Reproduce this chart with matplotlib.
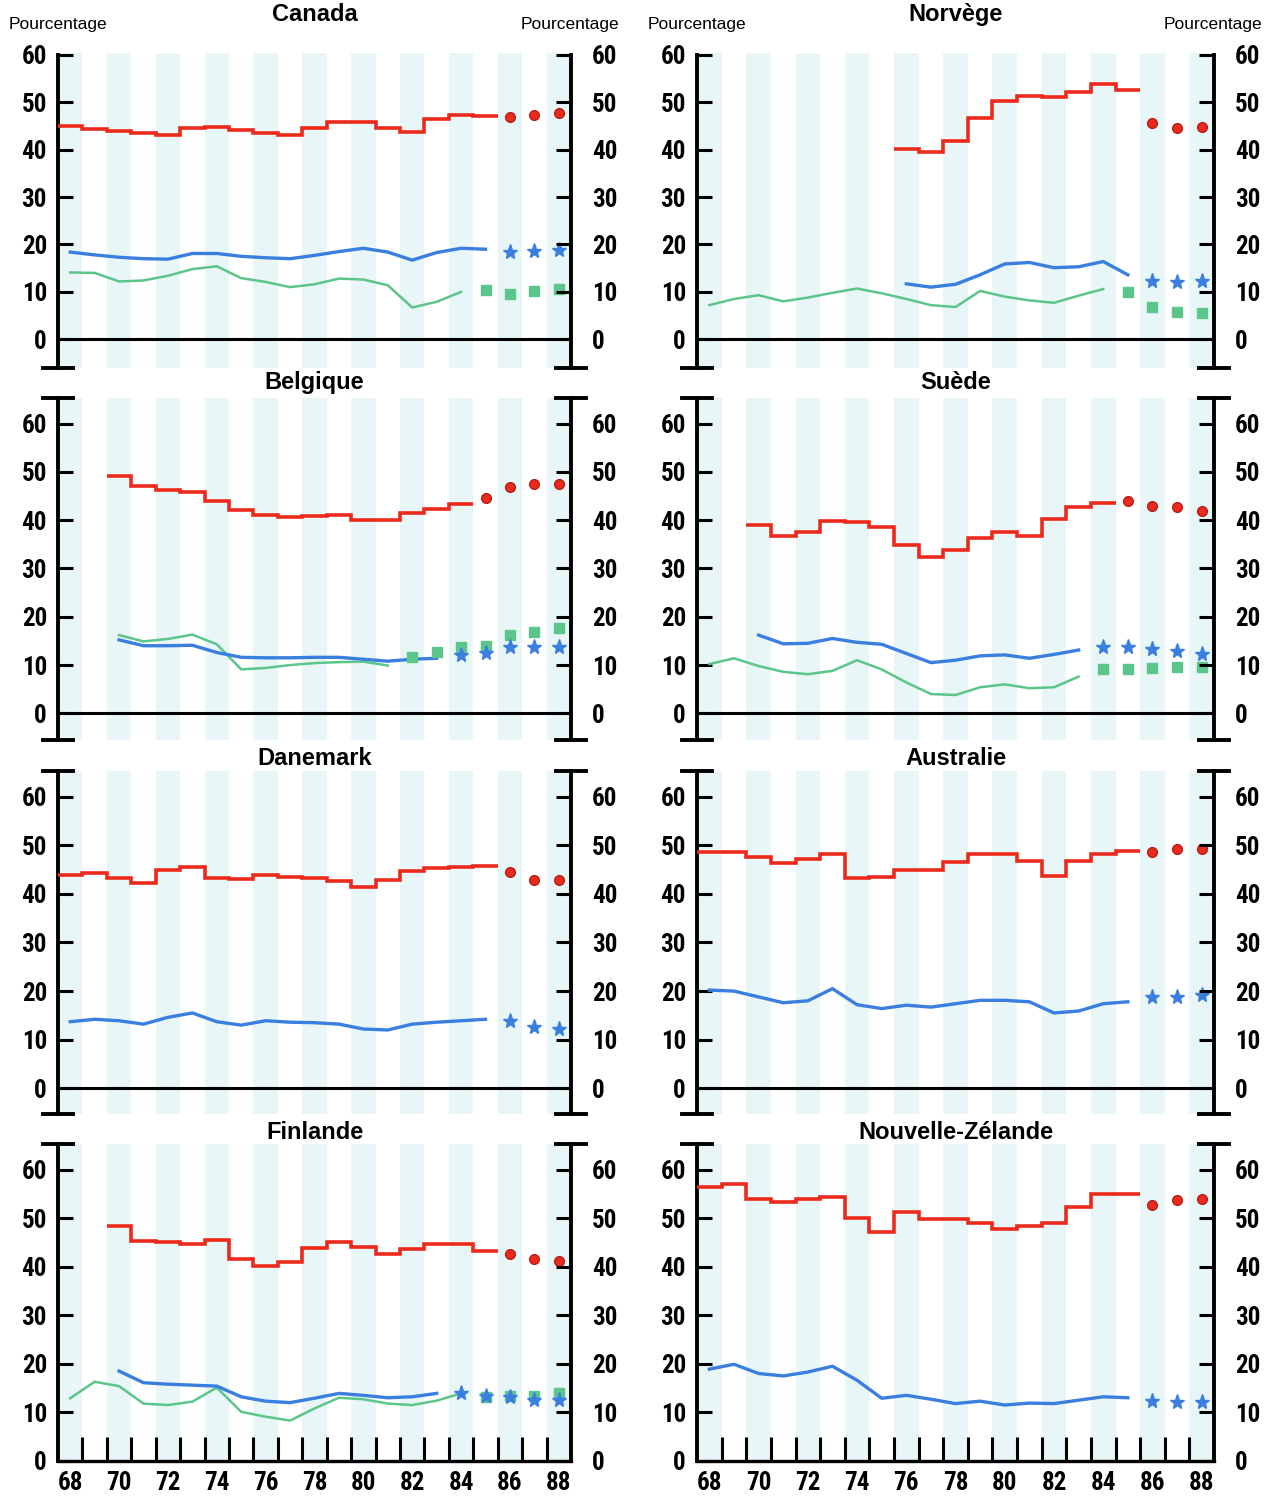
import numpy as np
import matplotlib.pyplot as plt
from matplotlib import font_manager

plt.rcParams['font.family'] = ['Liberation Sans', 'DejaVu Sans']

ROUGE = '#ec2a1c'
BLEU = '#3a7fe0'
VERT = '#5cc58a'
BANDE = '#e8f6f8'

# Canada
canada_rouge_ans = list(range(68, 86))
canada_rouge = [45.0, 44.3, 44.0, 43.6, 43.1, 44.5, 44.8, 44.1, 43.5, 43.0, 44.5, 45.8, 45.8, 44.6, 43.8, 46.4, 47.4, 47.2]
canada_rouge_prev = [46.8, 47.3, 47.7]
canada_bleu_ans = list(range(68, 86))
canada_bleu = [18.4, 17.8, 17.3, 17.0, 16.9, 18.1, 18.1, 17.5, 17.2, 17.0, 17.7, 18.5, 19.2, 18.4, 16.7, 18.3, 19.2, 19.0]
canada_bleu_prev = [18.5, 18.7, 18.8]
canada_vert_ans = list(range(68, 85))
canada_vert = [14.1, 14.0, 12.2, 12.4, 13.4, 14.8, 15.4, 12.9, 12.1, 11.0, 11.6, 12.8, 12.6, 11.4, 6.7, 7.9, 10.0]
canada_vert_prev = [10.5, 9.6, 10.1, 10.7]

# Norvège
norvege_rouge_ans = list(range(76, 86))
norvege_rouge = [40.2, 39.5, 41.8, 46.6, 50.3, 51.4, 51.1, 52.2, 53.9, 52.5]
norvege_rouge_prev = [45.6, 44.5, 44.7]
norvege_bleu_ans = list(range(76, 86))
norvege_bleu = [11.7, 11.0, 11.6, 13.6, 15.9, 16.2, 15.1, 15.3, 16.4, 13.6]
norvege_bleu_prev = [12.2, 12.0, 12.2]
norvege_vert_ans = list(range(68, 85))
norvege_vert = [7.2, 8.5, 9.3, 8.0, 8.8, 9.8, 10.7, 9.7, 8.5, 7.2, 6.8, 10.2, 9.0, 8.2, 7.7, 9.2, 10.6]
norvege_vert_prev = [9.9, 6.8, 5.8, 5.5]

# Belgique
belgique_rouge_ans = list(range(70, 85))
belgique_rouge = [49.2, 47.1, 46.3, 45.8, 43.9, 42.1, 41.0, 40.6, 40.8, 41.0, 40.1, 40.1, 41.5, 42.2, 43.4]
belgique_rouge_prev = [44.6, 46.9, 47.4, 47.4]
belgique_bleu_ans = list(range(70, 84))
belgique_bleu = [15.2, 14.0, 14.0, 14.1, 12.6, 11.6, 11.5, 11.5, 11.6, 11.6, 11.2, 10.8, 11.2, 11.4]
belgique_bleu_prev = [12.1, 12.4, 13.8, 13.8, 13.7]
belgique_vert_ans = list(range(70, 82))
belgique_vert = [16.2, 14.9, 15.4, 16.3, 14.3, 9.1, 9.4, 10.0, 10.4, 10.6, 10.7, 9.9]
belgique_vert_prev = [11.6, 12.6, 13.7, 13.9, 16.2, 16.9, 17.7]

# Suède
suede_rouge_ans = list(range(70, 85))
suede_rouge = [38.9, 36.8, 37.5, 39.9, 39.6, 38.6, 34.9, 32.3, 33.9, 36.4, 37.5, 36.8, 40.2, 42.8, 43.5]
suede_rouge_prev = [44.0, 43.0, 42.8, 41.9]
suede_bleu_ans = list(range(70, 84))
suede_bleu = [16.2, 14.4, 14.5, 15.5, 14.7, 14.3, 12.4, 10.5, 11.0, 11.9, 12.1, 11.4, 12.2, 13.1]
suede_bleu_prev = [13.8, 13.8, 13.3, 12.9, 12.2]
suede_vert_ans = list(range(68, 84))
suede_vert = [10.2, 11.4, 9.8, 8.6, 8.1, 8.8, 11.0, 9.1, 6.4, 4.0, 3.8, 5.4, 6.0, 5.2, 5.4, 7.6]
suede_vert_prev = [9.1, 9.1, 9.3, 9.5, 9.5]

# Danemark
danemark_rouge_ans = list(range(68, 86))
danemark_rouge = [43.8, 44.3, 43.3, 42.3, 44.9, 45.5, 43.3, 43.0, 43.8, 43.5, 43.3, 42.7, 41.5, 42.8, 44.7, 45.4, 45.5, 45.7]
danemark_rouge_prev = [44.4, 42.9, 42.8]
danemark_bleu_ans = list(range(68, 86))
danemark_bleu = [13.7, 14.2, 13.9, 13.2, 14.6, 15.5, 13.7, 13.0, 13.9, 13.6, 13.5, 13.2, 12.2, 12.0, 13.2, 13.6, 13.9, 14.2]
danemark_bleu_prev = [13.9, 12.6, 12.1]

# Australie
australie_rouge_ans = list(range(68, 86))
australie_rouge = [48.6, 48.6, 47.5, 46.3, 47.1, 48.2, 43.3, 43.5, 45.0, 45.0, 46.5, 48.2, 48.2, 46.7, 43.7, 46.7, 48.2, 48.9]
australie_rouge_prev = [48.6, 49.2, 49.2]
australie_bleu_ans = list(range(68, 86))
australie_bleu = [20.2, 20.0, 18.8, 17.6, 18.0, 20.5, 17.2, 16.4, 17.1, 16.7, 17.4, 18.1, 18.1, 17.8, 15.5, 15.9, 17.4, 17.8]
australie_bleu_prev = [18.8, 18.8, 19.1]

# Finlande
finlande_rouge_ans = list(range(70, 86))
finlande_rouge = [48.4, 45.3, 45.0, 44.6, 45.5, 41.7, 40.2, 40.9, 43.8, 45.1, 44.1, 42.7, 43.6, 44.6, 44.6, 43.2]
finlande_rouge_prev = [42.6, 41.7, 41.2]
finlande_bleu_ans = list(range(70, 84))
finlande_bleu = [18.5, 16.1, 15.8, 15.6, 15.4, 13.2, 12.3, 12.0, 12.9, 13.9, 13.5, 13.0, 13.2, 13.9]
finlande_bleu_prev = [13.9, 13.3, 13.2, 12.6, 12.6]
finlande_vert_ans = list(range(68, 85))
finlande_vert = [12.9, 16.3, 15.4, 11.8, 11.5, 12.2, 15.1, 10.1, 9.1, 8.3, 10.8, 13.0, 12.7, 11.8, 11.5, 12.4, 13.9]
finlande_vert_prev = [13.2, 13.4, 13.4, 13.9]

# Nouvelle-Zélande
nz_rouge_ans = list(range(68, 86))
nz_rouge = [56.4, 57.0, 54.0, 53.4, 54.0, 54.4, 50.1, 47.2, 51.3, 49.9, 49.9, 49.0, 47.7, 48.4, 49.0, 52.3, 54.9, 54.9]
nz_rouge_prev = [52.7, 53.8, 54.0]
nz_bleu_ans = list(range(68, 86))
nz_bleu = [18.9, 19.9, 18.0, 17.5, 18.3, 19.5, 16.6, 12.9, 13.5, 12.7, 11.8, 12.3, 11.5, 11.9, 11.8, 12.5, 13.2, 13.0]
nz_bleu_prev = [12.3, 12.2, 12.2]

ans_axe = list(range(68, 89, 2))
graduations = [0, 10, 20, 30, 40, 50, 60]


def police_chiffres(taille):
    """Police étroite et grasse pour les chiffres des axes, si une est installée."""
    noms = {f.name for f in font_manager.fontManager.ttflist}
    for nom in ['Roboto Condensed', 'Liberation Sans Narrow', 'Open Sans Condensed',
                'Noto Sans Condensed', 'DejaVu Sans Condensed']:
        if nom in noms:
            return font_manager.FontProperties(family=nom, size=taille, weight='bold')
    for nom in sorted(noms):
        if 'Narrow' in nom or 'Condensed' in nom:
            return font_manager.FontProperties(family=nom, size=taille, weight='bold')
    return font_manager.FontProperties(family='Liberation Sans', size=taille - 2,
                                       weight='bold')


FP_Y = police_chiffres(18)
FP_X = police_chiffres(18)


def prevision(ans, valeurs):
    """Années de prévision : elles suivent la dernière année observée."""
    return list(range(ans[-1] + 1, ans[-1] + 1 + len(valeurs)))


def trace_pays(ax, rouge, bleu, vert, ylo, yhi, bas):
    ax.set_xlim(67.5, 88.5)
    ax.set_ylim(ylo, yhi)
    for a in ans_axe:
        ax.axvspan(a - 0.5, a + 0.5, color=BANDE, lw=0, zorder=0)

    if vert is not None:
        ans, val, prev = vert
        ax.plot(ans, val, color=VERT, lw=1.8, zorder=3)
        ax.plot(prevision(ans, prev), prev, 's', color=VERT, ms=7, zorder=4)
    ans, val, prev = bleu
    ax.plot(ans, val, color=BLEU, lw=2.4, zorder=3)
    ax.plot(prevision(ans, prev), prev, '*', color=BLEU, ms=11, zorder=5)
    ans, val, prev = rouge
    bords = np.append(np.array(ans) - 0.5, ans[-1] + 0.5)
    ax.stairs(val, bords, baseline=None, color=ROUGE, lw=2.6, zorder=3)
    ax.plot(prevision(ans, prev), prev, 'o', color=ROUGE, mec='#b51e18', ms=7, zorder=4)

    # première rangée : l'axe s'arrête à 60, sinon barre en T au sommet
    haut = 60 if yhi < 61 else yhi
    ax.spines['left'].set_bounds(ylo, haut)
    ax.spines['left'].set_linewidth(2.8)
    ax.spines['right'].set_visible(False)
    ax.spines['top'].set_visible(False)

    ax.set_yticks(graduations)
    ax.tick_params(axis='y', direction='in', length=11, width=2.2, pad=8)
    for lab in ax.get_yticklabels():
        lab.set_fontproperties(FP_Y)

    droite = ax.twinx()
    droite.set_ylim(ylo, yhi)
    droite.set_yticks(graduations)
    droite.tick_params(axis='y', direction='in', length=11, width=2.2, pad=15)
    for lab in droite.get_yticklabels():
        lab.set_fontproperties(FP_Y)
    for cote in ['left', 'top', 'bottom']:
        droite.spines[cote].set_visible(False)
    droite.spines['right'].set_bounds(ylo, haut)
    droite.spines['right'].set_linewidth(2.8)

    if bas:
        ax.spines['bottom'].set_linewidth(2.4)
        ax.set_xticks(ans_axe)
        ax.set_xticks(np.arange(68.5, 88, 1), minor=True)
        ax.tick_params(axis='x', which='major', length=0, pad=7)
        for lab in ax.get_xticklabels():
            lab.set_fontproperties(FP_X)
        ax.tick_params(axis='x', which='minor', direction='in', length=17, width=2.2)
    else:
        ax.spines['bottom'].set_visible(False)
        ax.set_xticks([])
        ax.axhline(0, color='black', lw=2.2, zorder=2)
        for x in (67.5, 88.5):
            ax.plot([x - 0.6, x + 0.6], [ylo, ylo], color='black', lw=2.8,
                    clip_on=False, zorder=6)
    if haut == yhi:
        for x in (67.5, 88.5):
            ax.plot([x - 0.6, x + 0.6], [yhi, yhi], color='black', lw=2.8,
                    clip_on=False, zorder=6)


fig = plt.figure(figsize=(12.72, 14.96), dpi=100)

# (bas, hauteur, ymin, ymax) pour chaque rangée
rangees = [
    (0.7542, 0.2107, -6.0, 60.5),
    (0.5054, 0.2283, -5.5, 65.2),
    (0.2553, 0.2294, -5.3, 65.3),
    (0.0235, 0.2118, 0.0, 65.3),
]
colonnes = [(0.0456, 0.4033), (0.548, 0.4064)]
titres_y = [0.990, 0.744, 0.4933, 0.2433]

panneaux = [
    ('Canada', (canada_rouge_ans, canada_rouge, canada_rouge_prev),
     (canada_bleu_ans, canada_bleu, canada_bleu_prev),
     (canada_vert_ans, canada_vert, canada_vert_prev)),
    ('Norvège', (norvege_rouge_ans, norvege_rouge, norvege_rouge_prev),
     (norvege_bleu_ans, norvege_bleu, norvege_bleu_prev),
     (norvege_vert_ans, norvege_vert, norvege_vert_prev)),
    ('Belgique', (belgique_rouge_ans, belgique_rouge, belgique_rouge_prev),
     (belgique_bleu_ans, belgique_bleu, belgique_bleu_prev),
     (belgique_vert_ans, belgique_vert, belgique_vert_prev)),
    ('Suède', (suede_rouge_ans, suede_rouge, suede_rouge_prev),
     (suede_bleu_ans, suede_bleu, suede_bleu_prev),
     (suede_vert_ans, suede_vert, suede_vert_prev)),
    ('Danemark', (danemark_rouge_ans, danemark_rouge, danemark_rouge_prev),
     (danemark_bleu_ans, danemark_bleu, danemark_bleu_prev), None),
    ('Australie', (australie_rouge_ans, australie_rouge, australie_rouge_prev),
     (australie_bleu_ans, australie_bleu, australie_bleu_prev), None),
    ('Finlande', (finlande_rouge_ans, finlande_rouge, finlande_rouge_prev),
     (finlande_bleu_ans, finlande_bleu, finlande_bleu_prev),
     (finlande_vert_ans, finlande_vert, finlande_vert_prev)),
    ('Nouvelle-Zélande', (nz_rouge_ans, nz_rouge, nz_rouge_prev),
     (nz_bleu_ans, nz_bleu, nz_bleu_prev), None),
]

for i, (titre, rouge, bleu, vert) in enumerate(panneaux):
    ligne, col = divmod(i, 2)
    bas, hauteur, ylo, yhi = rangees[ligne]
    gauche, largeur = colonnes[col]
    ax = fig.add_axes([gauche, bas, largeur, hauteur])
    trace_pays(ax, rouge, bleu, vert, ylo, yhi, ligne == 3)
    fig.text(gauche + largeur / 2, titres_y[ligne], titre, ha='center', va='center',
             fontsize=17, fontweight='bold')

# étiquettes d'unité au-dessus de la première rangée
for gauche, largeur in colonnes:
    fig.text(gauche - 0.039, 0.9833, 'Pourcentage', ha='left', va='center', fontsize=12.5)
    fig.text(gauche + largeur + 0.038, 0.9833, 'Pourcentage', ha='right', va='center',
             fontsize=12.5)

fig.savefig('out.png', dpi=100)
